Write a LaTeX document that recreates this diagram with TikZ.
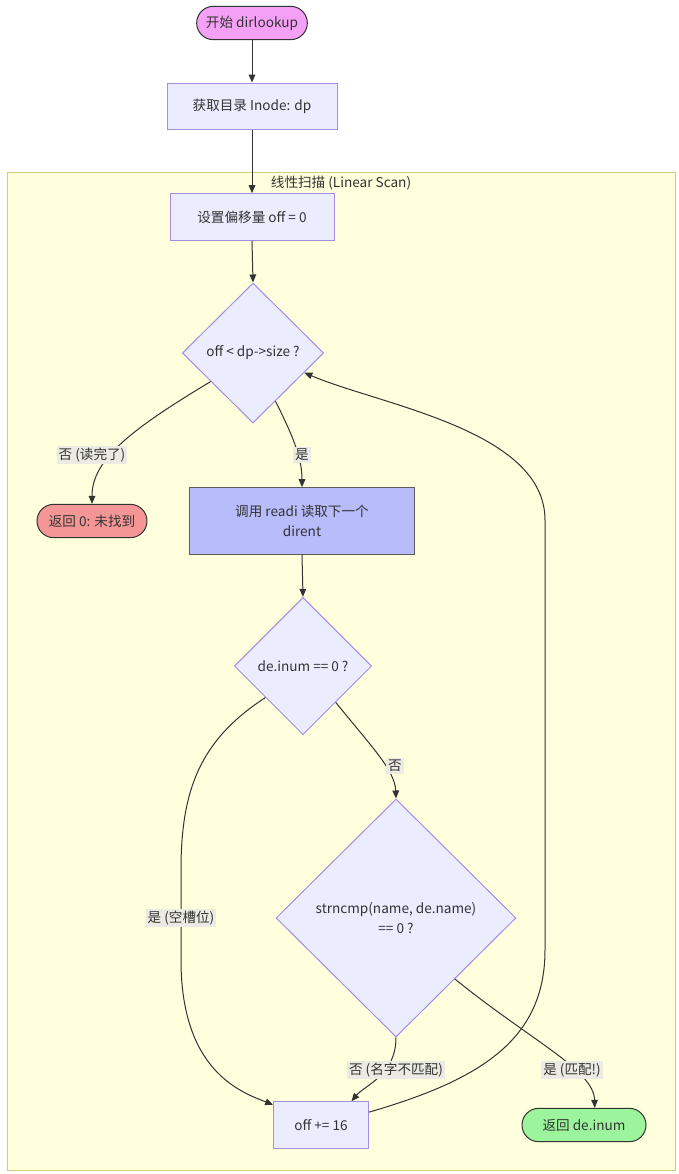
\documentclass[tikz,border=0pt]{standalone}
\usepackage{fontspec}
\setmainfont{Noto Sans CJK SC}
\usepackage{xcolor}
\usetikzlibrary{shapes.geometric,arrows.meta}
\definecolor{txt}{HTML}{333333}
\definecolor{boxfill}{HTML}{ECECFF}
\definecolor{boxline}{HTML}{A58EE2}
\definecolor{scanfill}{HTML}{FFFFDE}
\definecolor{scanline}{HTML}{CFCF7A}
\definecolor{startfill}{HTML}{F4A0F4}
\definecolor{failfill}{HTML}{F59696}
\definecolor{readfill}{HTML}{B8BCFA}
\definecolor{okfill}{HTML}{9CF59C}
\definecolor{lblfill}{HTML}{EBEBE3}

\begin{document}
\begin{tikzpicture}[x=0.75pt, y=-0.75pt,
    every node/.style={font=\fontsize{10.2}{15}\selectfont, text=txt},
    proc/.style={draw=boxline, fill=boxfill, line width=0.75pt, inner sep=0pt, align=center},
    cond/.style={diamond, aspect=1, draw=boxline, fill=boxfill, line width=0.75pt, inner sep=0pt, align=center},
    term/.style={draw=txt, line width=0.75pt, rounded corners=12.5pt, inner sep=0pt,
        minimum height=25pt},
    flow/.style={draw=txt, line width=0.75pt, -{Triangle[length=6pt,width=5pt]}},
    lbl/.style={fill=lblfill, inner sep=1.5pt}]
      \useasboundingbox (0,0) rectangle (678,1174);
      % cluster
      \draw[scanline, fill=scanfill, line width=0.75pt] (7,172) rectangle (675,1170);
      \node (scanlbl) at (341,183) {线性扫描 (Linear Scan)};
      % nodes
      \node[term, fill=startfill, minimum width=83pt] (start) at (252,23) {开始 dirlookup};
      \node[proc, minimum width=127.5pt, minimum height=34.5pt] (inode) at (252,106) {获取目录 Inode: dp};
      \node[proc, minimum width=123pt, minimum height=35pt] (offs) at (252,217) {设置偏移量 off = 0};
      \node[cond, minimum width=106pt, minimum height=105pt] (d1) at (253,353) {off < dp->size ?};
      \node[term, fill=failfill, minimum width=82.5pt] (ret0) at (92,521) {返回 0: 未找到};
      \node[proc, draw=txt!80, fill=readfill, minimum width=169pt, minimum height=50pt] (readi) at (302,521)
          {调用 readi 读取下一个\\dirent};
      \node[cond, minimum width=103pt, minimum height=103pt] (d2) at (303,666) {de.inum == 0 ?};
      \node[cond, minimum width=180pt, minimum height=178.5pt] (d3) at (396,918)
          {strncmp(name, de.name)\\== 0 ?};
      \node[proc, minimum width=71pt, minimum height=35pt] (off) at (321,1125) {off += 16};
      \node[term, fill=okfill, minimum width=93pt] (ret) at (584,1125) {返回 de.inum};
      % connectors
      \draw[flow] (start.south) -- (inode.north);
      \draw[flow] (inode.south) -- (offs.north);
      \draw[flow] (offs.south) -- (d1.north);
      \draw[flow] (d1.214) .. controls (130,430) and (92,460) .. (ret0.north);
      \draw[flow] (d1.295) .. controls (295,440) and (302,460) .. (readi.north);
      \draw[flow] (readi.south) -- (d2.north);
      \draw[flow] (d2.220) .. controls (200,740) and (181,790) .. (181,870) -- (181,960)
          .. controls (181,1070) and (240,1092) .. (off.157);
      \draw[flow] (d2.312) .. controls (370,745) and (395,770) .. (d3.north);
      \draw[flow] (d3.south) .. controls (396,1075) and (365,1085) .. (off.38);
      \draw[flow] (d3.314) .. controls (530,1040) and (594,1070) .. (ret.58);
      \draw[flow] (off.15) .. controls (480,1080) and (545,1040) .. (545,950) -- (545,520)
          .. controls (545,430) and (380,405) .. (d1.339);
      % labels
      \node[lbl] (l1) at (92,455) {否 (读完了)};
      \node[lbl] (l2) at (302,455) {是};
      \node[lbl] (l3) at (181,918) {是 (空槽位)};
      \node[lbl] (l4) at (395,766) {否};
      \node[lbl] (l5) at (396,1070) {否 (名字不匹配)};
      \node[lbl] (l6) at (572,1070) {是 (匹配!)};
\end{tikzpicture}
\end{document}
